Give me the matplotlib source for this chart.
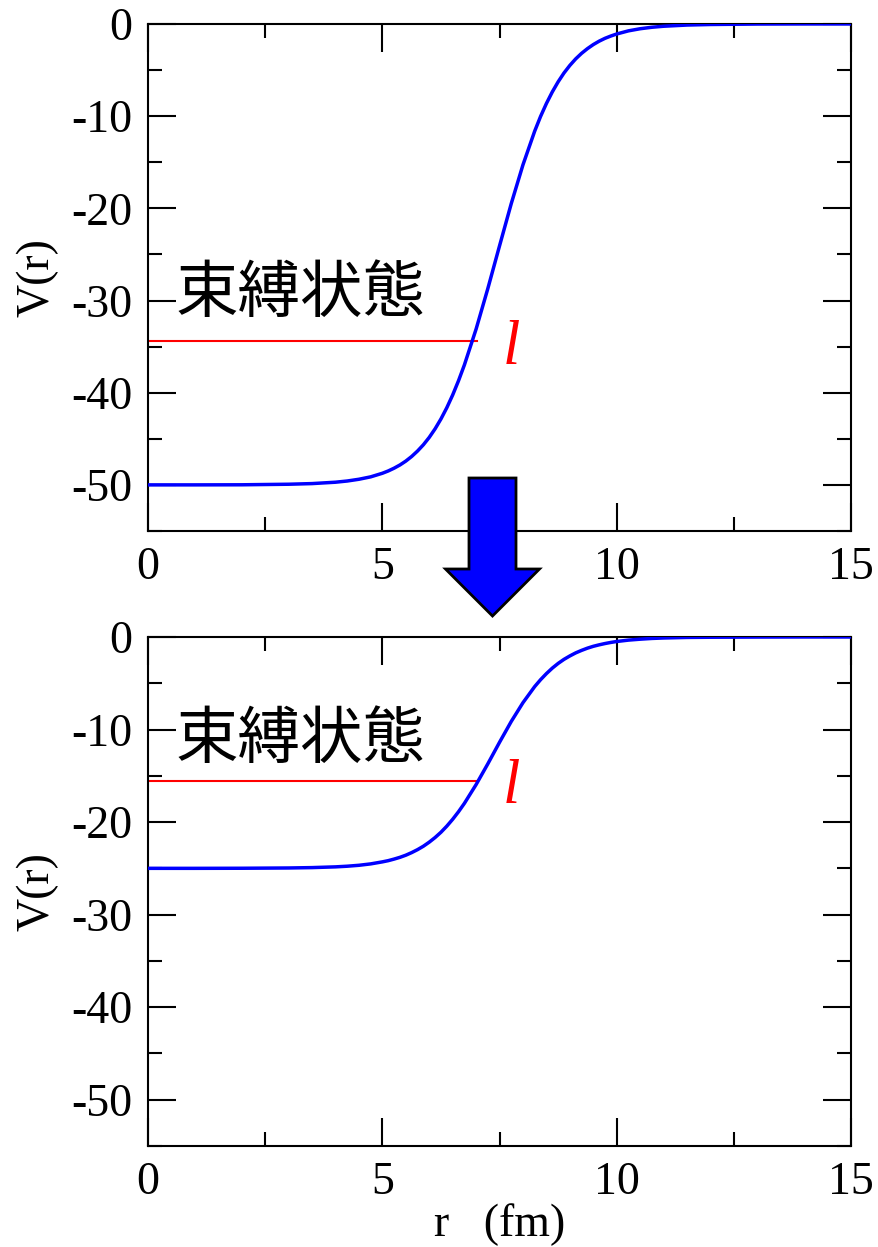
import matplotlib
matplotlib.use('Agg')
import matplotlib.pyplot as plt
import matplotlib.patches as mpatches
from matplotlib.ticker import MultipleLocator

plt.rcParams['font.family'] = ['Liberation Serif', 'DejaVu Serif']
plt.rcParams['axes.unicode_minus'] = False

# radial grid (fm)
r = [0.0, 1.0, 2.0, 3.0, 3.5, 4.0, 4.25, 4.5, 4.75, 5.0,
     5.125, 5.25, 5.375, 5.5, 5.625, 5.75, 5.875, 6.0, 6.125, 6.25,
     6.375, 6.5, 6.625, 6.75, 7.0, 7.25, 7.5, 7.75, 8.0, 8.25,
     8.375, 8.5, 8.625, 8.75, 8.875, 9.0, 9.125, 9.25, 9.375, 9.5,
     9.625, 9.75, 9.875, 10.0, 10.25, 10.5, 10.75, 11.0, 11.5, 12.0,
     13.0, 14.0, 15.0]

# deep well (upper panel)
v_deep = [-50.00, -50.00, -49.99, -49.93, -49.86, -49.71, -49.58, -49.39, -49.13, -48.74,
          -48.49, -48.19, -47.84, -47.42, -46.92, -46.33, -45.65, -44.85, -43.92, -42.85,
          -41.63, -40.25, -38.70, -36.99, -33.10, -28.71, -24.07, -19.49, -15.28, -11.63,
          -10.04, -8.63, -7.38, -6.28, -5.32, -4.50, -3.79, -3.19, -2.68, -2.24,
          -1.87, -1.56, -1.31, -1.09, -0.75, -0.52, -0.36, -0.25, -0.12, -0.06,
          -0.01, 0.00, 0.00]

# shallow well (lower panel)
v_shallow = [-25.00, -25.00, -24.99, -24.96, -24.92, -24.84, -24.77, -24.67, -24.52, -24.30,
             -24.17, -24.00, -23.81, -23.58, -23.30, -22.98, -22.61, -22.17, -21.67, -21.10,
             -20.44, -19.70, -18.88, -17.98, -15.95, -13.71, -11.38, -9.13, -7.10, -5.36,
             -4.62, -3.96, -3.37, -2.86, -2.42, -2.05, -1.72, -1.45, -1.21, -1.01,
             -0.85, -0.71, -0.59, -0.49, -0.34, -0.24, -0.16, -0.11, -0.05, -0.03,
             -0.01, 0.00, 0.00]

# bound-state level and its extent
level_deep = -34.4
level_shallow = -15.6
level_rmax = 7.02

label_text = '束縛状態'

fig = plt.figure(figsize=(8.79, 12.47), dpi=100)
ax_top = fig.add_axes([0.1684, 0.5742, 0.7998, 0.4066])
ax_bot = fig.add_axes([0.1684, 0.0810, 0.7998, 0.4082])

panels = [(ax_top, v_deep, level_deep, -31.3, -36.9),
          (ax_bot, v_shallow, level_shallow, -13.1, -17.9)]

for ax, v, level, text_y, l_y in panels:
    ax.plot(r, v, color='#0000ff', lw=2.5, zorder=3, solid_joinstyle='round')
    ax.plot([0, level_rmax], [level, level], color='#ff0000', lw=1.5, zorder=2)
    ax.text(0.58, text_y, label_text, fontsize=45, va='baseline', ha='left',
            family=['Noto Sans CJK JP', 'DejaVu Sans'])
    ax.text(7.75, l_y, 'l', fontsize=45, style='italic', color='#ff0000',
            ha='center', va='baseline')

    ax.set_xlim(0, 15)
    ax.set_ylim(-55, 0)
    ax.xaxis.set_major_locator(MultipleLocator(5))
    ax.xaxis.set_minor_locator(MultipleLocator(2.5))
    ax.yaxis.set_major_locator(MultipleLocator(10))
    ax.yaxis.set_minor_locator(MultipleLocator(5))
    ax.tick_params(which='both', direction='in', top=True, right=True,
                   width=1.5, labelsize=33, pad=11)
    ax.tick_params(which='major', length=20)
    ax.tick_params(which='minor', length=10)
    for sp in ax.spines.values():
        sp.set_linewidth(1.5)

    ax.set_ylabel('V(r)', fontsize=33)
    ax.yaxis.label.set_va('center')
    ax.yaxis.set_label_coords(-0.158, 0.5)

ax_bot.set_xlabel('r   (fm)', fontsize=33)
ax_bot.xaxis.label.set_va('center')
ax_bot.xaxis.set_label_coords(0.5, -0.155)

# down arrow between the two panels
arrow = mpatches.FancyArrow(4.925, 7.69, 0, -1.38, width=0.47, head_width=0.94,
                            head_length=0.47, length_includes_head=True,
                            transform=fig.dpi_scale_trans, facecolor='#0000ff',
                            edgecolor='black', linewidth=2, zorder=5)
fig.add_artist(arrow)

fig.savefig('out.png', dpi=100)
